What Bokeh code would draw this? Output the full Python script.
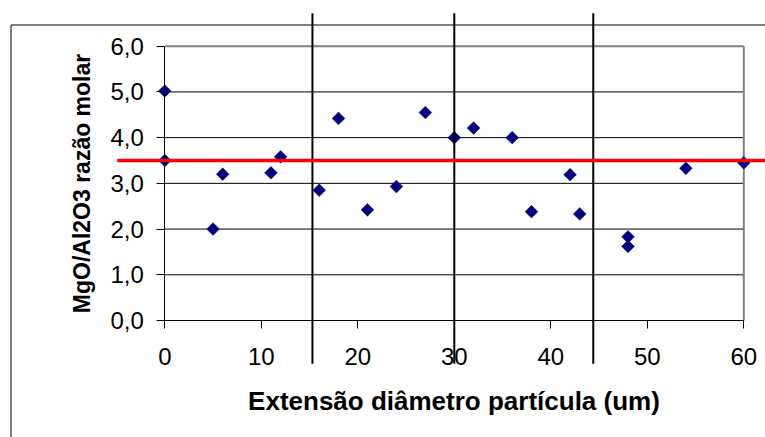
from bokeh.plotting import figure
from bokeh.models import Range1d, FixedTicker
from bokeh.embed import file_html
from bokeh.resources import INLINE

# ---------------- data ----------------
particle_size = [0, 0, 5, 6, 11, 12, 16, 18, 21, 24, 27, 30, 32, 36, 38, 42, 43, 48, 48, 54, 60]
mgo_al2o3 = [5.02, 3.50, 2.00, 3.20, 3.23, 3.58, 2.85, 4.42, 2.42, 2.93, 4.55, 4.00, 4.21,
             4.00, 2.38, 3.19, 2.33, 1.83, 1.62, 3.33, 3.45]
reference_ratio = 3.5
divider_positions = [15.3, 30.0, 44.4]
x_ticks = [0, 10, 20, 30, 40, 50, 60]
x_tick_labels = ["0", "10", "20", "30", "40", "50", "60"]
y_ticks = [0, 1, 2, 3, 4, 5, 6]
y_tick_labels = ["0,0", "1,0", "2,0", "3,0", "4,0", "5,0", "6,0"]
x_title = "Extensão diâmetro partícula (um)"
y_title = "MgO/Al2O3 razão molar"

# ---------------- layout (page pixels) ----------------
W, H = 765, 437
PAGE = 0
X_MIN, X_MAX = x_ticks[0], x_ticks[-1]
Y_MIN, Y_MAX = y_ticks[0], y_ticks[-1]
X_LO_PX, X_HI_PX = 164.3, 743.3
Y_LO_PX, Y_HI_PX = 320.0, 45.7
kx = (X_HI_PX - X_LO_PX) / (X_MAX - X_MIN)
ky = (Y_LO_PX - Y_HI_PX) / (Y_MAX - Y_MIN)


def px_to_x(px):
    return X_MIN + (px - X_LO_PX) / kx


def py_to_y(py):
    return Y_MIN + (Y_LO_PX - py) / ky


xr = Range1d(px_to_x(PAGE), px_to_x(PAGE + W))
yr = Range1d(py_to_y(PAGE + H), py_to_y(PAGE))

p = figure(width=W, height=H, x_range=xr, y_range=yr, output_backend="svg",
           toolbar_location=None, min_border=0, tools="")
p.outline_line_color = None
p.background_fill_color = "white"
p.border_fill_color = "white"
p.xgrid.visible = False
p.ygrid.visible = False

FONT = "Liberation Sans"

# outer chart-area border (only top and left visible in the window)
bx = px_to_x(10.5)
by = py_to_y(24.5)
p.segment(x0=[bx, bx], y0=[by, by], x1=[xr.end, bx], y1=[by, yr.start],
          line_color="black", line_width=1)

# horizontal gridlines
inner = [t for t in y_ticks if Y_MIN < t < Y_MAX]
p.segment(x0=[X_MIN] * len(inner), y0=inner, x1=[X_MAX] * len(inner), y1=inner,
          line_color="black", line_width=1)

# plot-area border (gray top + right)
p.segment(x0=[X_MIN, X_MAX], y0=[Y_MAX, Y_MAX], x1=[X_MAX, X_MAX], y1=[Y_MAX, Y_MIN],
          line_color="#808080", line_width=2)

# data points
p.scatter(particle_size, mgo_al2o3, marker="square", angle=0.785398, size=9,
          fill_color="#000080", line_color="#000080", line_width=0.5)

# vertical divider lines
n = len(divider_positions)
p.segment(x0=divider_positions, y0=[py_to_y(12.7)] * n,
          x1=divider_positions, y1=[py_to_y(363.3)] * n,
          line_color="black", line_width=2)

# reference ratio line
p.segment(x0=[px_to_x(116.7)], y0=[reference_ratio], x1=[xr.end], y1=[reference_ratio],
          line_color="#FF0000", line_width=3.5)

# axes
xa = p.xaxis[0]
xa.fixed_location = 0
xa.bounds = (X_MIN, X_MAX)
xa.ticker = FixedTicker(ticks=x_ticks)
xa.major_label_overrides = {t: s for t, s in zip(x_ticks, x_tick_labels)}
xa.minor_tick_line_color = None
xa.major_tick_in = 0
xa.major_tick_out = 8
xa.axis_line_color = "black"
xa.major_tick_line_color = "black"
xa.major_label_text_font = FONT
xa.major_label_text_font_size = "24px"
xa.major_label_text_color = "black"
xa.major_label_standoff = 19
xa.axis_label = x_title
xa.axis_label_text_font = FONT
xa.axis_label_text_font_style = "bold"
xa.axis_label_text_font_size = "26px"
xa.axis_label_text_color = "black"
xa.axis_label_standoff = 18

ya = p.yaxis[0]
ya.fixed_location = 0
ya.bounds = (Y_MIN, Y_MAX)
ya.ticker = FixedTicker(ticks=y_ticks)
ya.major_label_overrides = {t: s for t, s in zip(y_ticks, y_tick_labels)}
ya.minor_tick_line_color = None
ya.major_tick_in = 0
ya.major_tick_out = 8
ya.axis_line_color = "black"
ya.major_tick_line_color = "black"
ya.major_label_text_font = FONT
ya.major_label_text_font_size = "24px"
ya.major_label_text_color = "black"
ya.major_label_standoff = 13
ya.axis_label = y_title
ya.axis_label_text_font = FONT
ya.axis_label_text_font_style = "bold"
ya.axis_label_text_font_size = "23px"
ya.axis_label_text_color = "black"
ya.axis_label_standoff = 12

open("out.html", "w").write(file_html(p, INLINE))
